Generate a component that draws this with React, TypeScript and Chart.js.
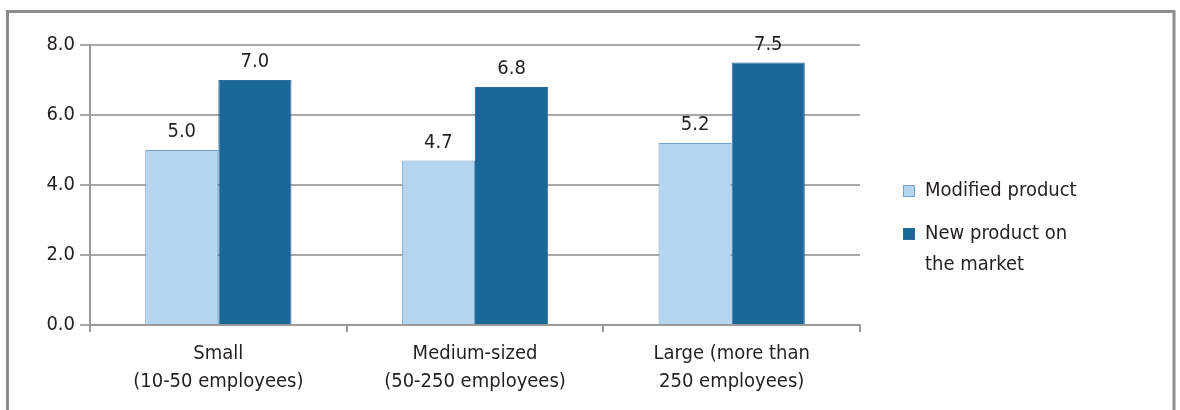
import React, { useEffect, useRef } from "react";
import { Chart, registerables } from "chart.js";

Chart.register(...registerables);

const categories: string[][] = [
  ["Small", "(10-50 employees)"],
  ["Medium-sized", "(50-250 employees)"],
  ["Large (more than", "250 employees)"],
];
const modifiedProduct: number[] = [5.0, 4.7, 5.2];
const newProduct: number[] = [7.0, 6.8, 7.5];
const seriesNames: string[][] = [["Modified product"], ["New product on", "the market"]];
const yTicks: number[] = [0, 2, 4, 6, 8];

const FONT = "'Liberation Sans Narrow', 'DejaVu Sans Condensed', 'Roboto', sans-serif";
const TEXT = "#231f20";
const LIGHT = "#b5d5ef";
const LIGHT_BORDER = "#6fa3d3";
const DARK = "#1b6898";
const DARK_BORDER = "#2a6d98";

const framePlugin = {
  id: "frame",
  beforeDraw(chart: any) {
    const { ctx } = chart;
    ctx.save();
    ctx.fillStyle = "#ffffff";
    ctx.fillRect(0, 0, chart.width, chart.height);
    ctx.strokeStyle = "#8c8c8c";
    ctx.lineWidth = 3;
    ctx.beginPath();
    ctx.moveTo(7.5, chart.height + 5);
    ctx.lineTo(7.5, 11.5);
    ctx.lineTo(1174, 11.5);
    ctx.lineTo(1174, chart.height + 5);
    ctx.stroke();
    ctx.restore();
  },
};

const valueLabelPlugin = {
  id: "valueLabels",
  afterDatasetsDraw(chart: any) {
    const { ctx } = chart;
    ctx.save();
    ctx.font = `20px ${FONT}`;
    ctx.fillStyle = TEXT;
    ctx.textAlign = "center";
    ctx.textBaseline = "bottom";
    chart.data.datasets.forEach((ds: any, i: number) => {
      const meta = chart.getDatasetMeta(i);
      meta.data.forEach((bar: any, j: number) => {
        ctx.fillText(Number(ds.data[j]).toFixed(1), bar.x, bar.y - 8);
      });
    });
    ctx.restore();
  },
};

const sideLegendPlugin = {
  id: "sideLegend",
  afterDraw(chart: any) {
    const { ctx } = chart;
    const colors = [
      [LIGHT, LIGHT_BORDER],
      [DARK, DARK_BORDER],
    ];
    const starts = [191, 234];
    ctx.save();
    ctx.font = `20px ${FONT}`;
    ctx.fillStyle = TEXT;
    ctx.textBaseline = "middle";
    ctx.textAlign = "left";
    seriesNames.forEach((lines, i) => {
      const y0 = starts[i];
      ctx.fillStyle = colors[i][0];
      ctx.fillRect(903, y0 - 6, 12, 12);
      ctx.strokeStyle = colors[i][1];
      ctx.lineWidth = 1;
      ctx.strokeRect(903.5, y0 - 5.5, 11, 11);
      ctx.fillStyle = TEXT;
      lines.forEach((line, k) => {
        ctx.fillText(line, 925, y0 + k * 31);
      });
    });
    ctx.restore();
  },
};

export default function App() {
  const ref = useRef<HTMLCanvasElement>(null);
  useEffect(() => {
    if (!ref.current) return;
    const chart = new Chart(ref.current, {
      type: "bar",
      data: {
        labels: categories,
        datasets: [
          {
            label: seriesNames[0].join(" "),
            data: modifiedProduct,
            backgroundColor: LIGHT,
            borderColor: LIGHT_BORDER,
            borderWidth: 1,
          },
          {
            label: seriesNames[1].join(" "),
            data: newProduct,
            backgroundColor: DARK,
            borderColor: DARK_BORDER,
            borderWidth: 1,
          },
        ],
      },
      options: {
        animation: false,
        responsive: false,
        layout: { padding: { top: 45, right: 320, left: 0, bottom: 0 } },
        plugins: {
          legend: { display: false },
          tooltip: { enabled: false },
        },
        datasets: { bar: { barPercentage: 1, categoryPercentage: 0.57 } },
        scales: {
          x: {
            afterFit: (s: any) => {
              s.height = 85;
            },
            grid: {
              offset: true,
              drawOnChartArea: false,
              color: "#9a9a9a",
              lineWidth: 2,
              tickLength: 7,
            },
            border: { color: "#9a9a9a", width: 2 },
            ticks: {
              color: TEXT,
              font: { family: FONT, size: 20, lineHeight: 1.4 },
              padding: 8,
              maxRotation: 0,
            },
          },
          y: {
            min: 0,
            max: 8,
            afterFit: (s: any) => {
              s.width = 90;
            },
            afterBuildTicks: (s: any) => {
              s.ticks = yTicks.map((v) => ({ value: v }));
            },
            grid: {
              color: "#a8a8a8",
              lineWidth: 2,
              tickLength: 10,
            },
            border: { color: "#9a9a9a", width: 2 },
            ticks: {
              color: TEXT,
              font: { family: FONT, size: 20 },
              padding: 5,
              callback: (v: any) => Number(v).toFixed(1),
            },
          },
        },
      },
      plugins: [framePlugin, valueLabelPlugin, sideLegendPlugin],
    });
    return () => chart.destroy();
  }, []);
  return (
    <div style={{ position: "absolute", left: 0, top: 0, width: 1180, height: 410 }}>
      <canvas ref={ref} width={1180} height={410} style={{ display: "block" }} />
    </div>
  );
}
